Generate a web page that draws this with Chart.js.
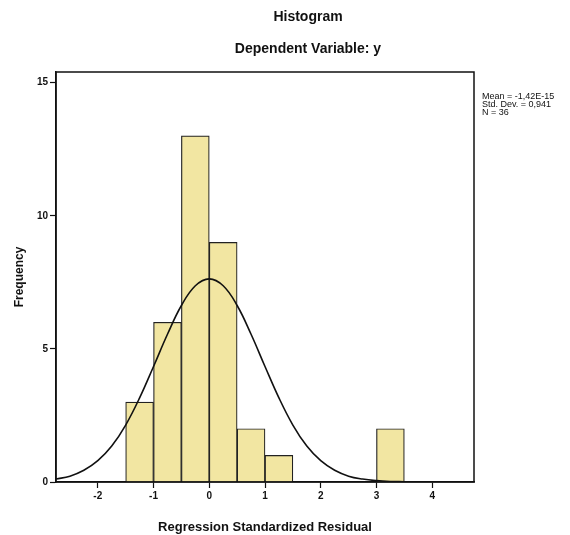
<!DOCTYPE html>
<html>
<head>
<meta charset="utf-8">
<script src="https://cdn.jsdelivr.net/npm/chart.js@4.4.1/dist/chart.umd.min.js"></script>
<style>
  html, body { margin: 0; padding: 0; background: #ffffff; }
  #wrap { width: 570px; height: 535px; }
</style>
</head>
<body>
<div id="wrap"><canvas id="c" width="570" height="535"></canvas></div>
<script>
// ---- data ----
const binCenters = [-1.25, -0.75, -0.25, 0.25, 0.75, 1.25, 3.25];
const binCounts  = [3, 6, 13, 9, 2, 1, 2];
const curveX = [-2.75, -2.5, -2.25, -2, -1.75, -1.5, -1.25, -1, -0.75, -0.5, -0.25, 0,
                0.25, 0.5, 0.75, 1, 1.25, 1.5, 1.75, 2, 2.25, 2.5, 2.75, 3, 3.25, 3.5, 3.75];
const curveY = [0.11, 0.22, 0.44, 0.80, 1.35, 2.14, 3.16, 4.34, 5.55, 6.63, 7.37, 7.63,
                7.37, 6.63, 5.55, 4.34, 3.16, 2.14, 1.35, 0.80, 0.44, 0.22, 0.11, 0.05, 0.02, 0.01, 0.0];
const xTicks = [-2, -1, 0, 1, 2, 3, 4];
const yTicks = [0, 5, 10, 15];
const titleText = 'Histogram';
const subtitleText = 'Dependent Variable: y';
const statsLines = ['Mean = -1,42E-15', 'Std. Dev. = 0,941', 'N = 36'];
const xTitle = 'Regression Standardized Residual';
const yTitle = 'Frequency';

const FONT = "'Liberation Sans', Arial, sans-serif";

const textPlugin = {
  id: 'textPlugin',
  afterDraw(chart) {
    const ctx = chart.ctx;
    const a = chart.chartArea;
    ctx.save();
    // frame
    ctx.strokeStyle = '#111';
    ctx.lineWidth = 1.5;
    ctx.strokeRect(a.left, a.top, a.right - a.left, a.bottom - a.top);
    // titles
    ctx.fillStyle = '#111';
    ctx.textAlign = 'center';
    ctx.textBaseline = 'middle';
    ctx.font = 'bold 14px ' + FONT;
    ctx.fillText(titleText, 308, 17);
    ctx.fillText(subtitleText, 308, 49);
    // stats
    ctx.textAlign = 'left';
    ctx.font = '9px ' + FONT;
    statsLines.forEach((s, i) => ctx.fillText(s, a.right + 8, 97 + i * 8));
    ctx.restore();
  }
};

new Chart(document.getElementById('c'), {
  data: {
    datasets: [
      {
        type: 'line',
        order: 0,
        data: curveX.map((x, i) => ({ x: x, y: curveY[i] })),
        borderColor: '#111',
        borderWidth: 1.6,
        pointRadius: 0,
        tension: 0.4,
        fill: false
      },
      {
        type: 'bar',
        order: 1,
        data: binCenters.map((x, i) => ({ x: x, y: binCounts[i] })),
        backgroundColor: '#f2e6a2',
        borderColor: '#222',
        borderWidth: 1.2,
        barPercentage: 1.0,
        categoryPercentage: 1.0
      }
    ]
  },
  options: {
    responsive: false,
    animation: false,
    layout: { padding: { top: 72, right: 96, left: 0, bottom: 0 } },
    plugins: {
      legend: { display: false },
      tooltip: { enabled: false },
      title: { display: false }
    },
    scales: {
      x: {
        type: 'linear',
        min: -2.75,
        max: 4.75,
        offset: false,
        afterBuildTicks: s => { s.ticks = xTicks.map(v => ({ value: v })); },
        afterFit: s => { s.height = 53; },
        grid: { offset: false, drawOnChartArea: false, drawTicks: true, tickLength: 6, color: '#111', tickWidth: 1.2 },
        border: { display: true, color: '#111', width: 1.5 },
        ticks: { color: '#111', font: { family: FONT, size: 10, weight: 'bold' }, padding: 2, maxRotation: 0 },
        title: { display: true, text: xTitle, color: '#111', font: { family: FONT, size: 13, weight: 'bold' }, padding: { top: 8, bottom: 0 } }
      },
      y: {
        type: 'linear',
        min: 0,
        max: 15.4,
        afterBuildTicks: s => { s.ticks = yTicks.map(v => ({ value: v })); },
        afterFit: s => { s.width = 56; },
        grid: { drawOnChartArea: false, drawTicks: true, tickLength: 6, color: '#111', tickWidth: 1.2 },
        border: { display: true, color: '#111', width: 1.5 },
        ticks: { color: '#111', font: { family: FONT, size: 10, weight: 'bold' }, padding: 2 },
        title: { display: true, text: yTitle, color: '#111', font: { family: FONT, size: 12, weight: 'bold' }, padding: { top: 12, bottom: 0 } }
      }
    }
  },
  plugins: [textPlugin]
});
</script>
</body>
</html>
